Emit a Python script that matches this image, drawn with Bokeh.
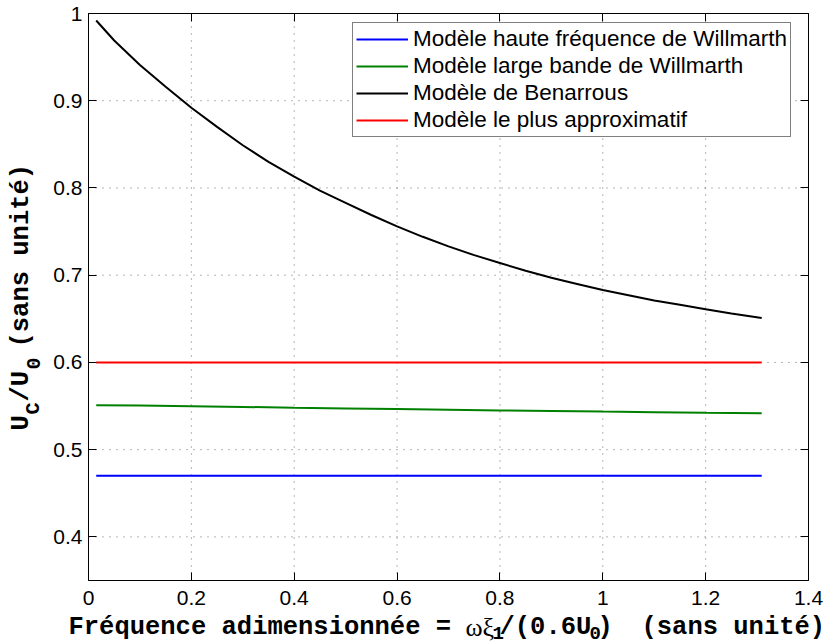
from bokeh.plotting import figure
from bokeh.models import Legend, LegendItem, LinearAxis, FixedTicker, Label, Range1d
from bokeh.embed import file_html
from bokeh.resources import INLINE

# ---- data ----
freq = [0.015, 0.1, 0.2, 0.3, 0.4, 0.5, 0.6, 0.7, 0.8, 0.9, 1.0, 1.1, 1.2, 1.309]
willmarth_hf = [0.47, 0.47, 0.47, 0.47, 0.47, 0.47, 0.47, 0.47, 0.47, 0.47, 0.47, 0.47, 0.47, 0.47]
willmarth_lb = [0.551, 0.5505, 0.5497, 0.549, 0.548, 0.5473, 0.5465, 0.5458, 0.545, 0.5443, 0.5436, 0.543, 0.5424, 0.5418]
approx = [0.6, 0.6, 0.6, 0.6, 0.6, 0.6, 0.6, 0.6, 0.6, 0.6, 0.6, 0.6, 0.6, 0.6]
freq_benarrous = [0.015, 0.05, 0.1, 0.15, 0.2, 0.25, 0.3, 0.35, 0.4, 0.45, 0.5, 0.55, 0.6, 0.65,
                  0.7, 0.75, 0.8, 0.85, 0.9, 0.95, 1.0, 1.05, 1.1, 1.15, 1.2, 1.25, 1.309]
benarrous = [0.992, 0.969, 0.941, 0.916, 0.892, 0.870, 0.849, 0.830, 0.813, 0.797, 0.783, 0.769, 0.756, 0.744,
             0.733, 0.723, 0.714, 0.705, 0.697, 0.690, 0.683, 0.677, 0.671, 0.666, 0.661, 0.656, 0.651]

series_names = ["Modèle haute fréquence de Willmarth", "Modèle large bande de Willmarth",
                "Modèle de Benarrous", "Modèle le plus approximatif"]
series_colors = ["#0000ff", "#008000", "#000000", "#ff0000"]

x_ticks = [0, 0.2, 0.4, 0.6, 0.8, 1.0, 1.2, 1.4]
x_tick_labels = ["0", "0.2", "0.4", "0.6", "0.8", "1", "1.2", "1.4"]
y_ticks = [0.4, 0.5, 0.6, 0.7, 0.8, 0.9, 1.0]
y_tick_labels = ["0.4", "0.5", "0.6", "0.7", "0.8", "0.9", "1"]

# axes box limits
X0, X1, Y0, Y1 = 0.0, 1.4, 0.35, 1.0

# ---- layout (pixels): the plot frame covers the whole canvas, the axes box sits inside ----
W, H = 829, 644
BOX_L, BOX_R, BOX_T, BOX_B = 88, 808, 13, 580
PXX = (BOX_R - BOX_L) / (X1 - X0)
PXY = (BOX_B - BOX_T) / (Y1 - Y0)
xr = Range1d(X0 - BOX_L / PXX, X1 + (W - BOX_R) / PXX)
yr = Range1d(Y0 - (H - BOX_B) / PXY, Y1 + BOX_T / PXY)

def dx(px):
    return xr.start + px / PXX

def dy(py):
    return yr.end - py / PXY

p = figure(width=W, height=H, x_range=xr, y_range=yr,
           output_backend="svg", toolbar_location=None,
           min_border_left=0, min_border_right=0, min_border_top=0, min_border_bottom=0)
p.background_fill_color = "white"
p.border_fill_color = "white"
p.outline_line_color = None
p.xgrid.visible = False
p.ygrid.visible = False

TICK_FONT = "Liberation Sans"

def style_axis(ax, ticks, labels, loc, bounds, show_labels=True):
    ax.fixed_location = loc
    ax.bounds = bounds
    ax.ticker = FixedTicker(ticks=ticks)
    ax.major_tick_in = 8
    ax.major_tick_out = 0
    ax.minor_tick_in = 0
    ax.minor_tick_out = 0
    ax.axis_line_color = "black"
    ax.axis_line_width = 1
    ax.major_tick_line_color = "black"
    ax.major_label_text_font = TICK_FONT
    ax.major_label_text_color = "black"
    ax.major_label_text_font_size = "21px"
    if show_labels:
        ax.major_label_overrides = {t: l for t, l in zip(ticks, labels)}
    else:
        ax.major_label_overrides = {t: "" for t in ticks}
        ax.major_label_standoff = 0

# grid (dotted), at the tick values
p.segment(x0=x_ticks, y0=[Y0] * len(x_ticks), x1=x_ticks, y1=[Y1] * len(x_ticks),
          line_color="#6a6a6a", line_dash="1 6", line_width=1)
p.segment(x0=[X0] * len(y_ticks), y0=y_ticks, x1=[X1] * len(y_ticks), y1=y_ticks,
          line_color="#6a6a6a", line_dash="1 6", line_width=1)

style_axis(p.xaxis[0], x_ticks, x_tick_labels, Y0, (X0, X1))
p.xaxis[0].major_label_standoff = 10
style_axis(p.yaxis[0], y_ticks, y_tick_labels, X0, (Y0, Y1))
p.yaxis[0].major_label_standoff = 6

top = LinearAxis()
style_axis(top, x_ticks, x_tick_labels, Y1, (X0, X1), show_labels=False)
p.add_layout(top, "above")
right = LinearAxis()
style_axis(right, y_ticks, y_tick_labels, X1, (Y0, Y1), show_labels=False)
p.add_layout(right, "right")

renderers = []
for xs, ys, c in zip([freq, freq, freq_benarrous, freq],
                     [willmarth_hf, willmarth_lb, benarrous, approx], series_colors):
    r = p.line(xs, ys, line_color=c, line_width=2)
    renderers.append(r)

legend = Legend(items=[LegendItem(label=n, renderers=[r]) for n, r in zip(series_names, renderers)],
                location=(352, H - 137))
legend.label_text_font = TICK_FONT
legend.label_text_font_size = "22.5px"
legend.label_text_color = "black"
legend.glyph_width = 52
legend.glyph_height = 26
legend.label_height = 26
legend.label_standoff = 5
legend.spacing = 1
legend.padding = 3
legend.margin = 0
legend.border_line_color = "black"
legend.border_line_width = 1
legend.background_fill_color = "white"
legend.background_fill_alpha = 1
p.add_layout(legend, "center")

# ---- axis titles as text pieces ----
LBL_FONT = "Liberation Mono"

def piece(text, px, py, size, angle=0, font=LBL_FONT, style="bold"):
    lab = Label(x=dx(px), y=dy(py), x_units="data", y_units="data", text=text,
                text_font=font, text_font_style=style, text_font_size=size,
                text_color="black", text_align="left", text_baseline="alphabetic",
                angle=angle, angle_units="deg")
    p.add_layout(lab)

# x label
piece("Fréquence adimensionnée = ", 68, 627, "25.5px")
piece("ωξ", 465, 627, "26px", font="Liberation Serif", style="normal")
piece("1", 492, 632, "19px")
piece("/(0.6U", 499, 627, "25.5px")
piece("0", 589, 632, "19px")
piece(")", 597, 627, "25.5px")
piece("(sans unité)", 641, 627, "25.5px")

# y label (rotated, reads upward)
piece("U", 21, 430, "25.5px", 90)
piece("C", 33, 414, "20px", 90)
piece("/U", 21, 401, "25.5px", 90)
piece("0", 33, 369, "20px", 90)
piece("(sans unité)", 21, 347, "25.5px", 90)

open("out.html", "w").write(file_html(p, INLINE))
